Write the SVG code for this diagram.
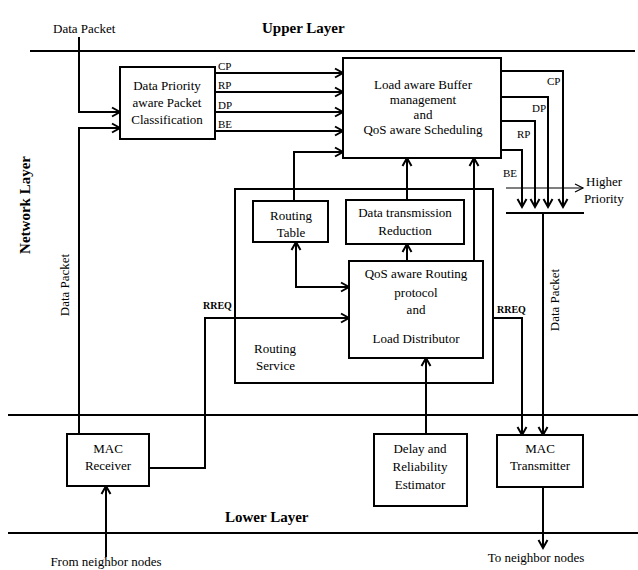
<svg xmlns="http://www.w3.org/2000/svg" width="638" height="570" viewBox="0 0 638 570" font-family="'Liberation Serif', 'DejaVu Serif', serif">
<style>
  .box{fill:#fff;stroke:#000;stroke-width:2}
  .ln{fill:none;stroke:#000;stroke-width:2}
  .thin{fill:none;stroke:#000;stroke-width:1.2}
  text{font-family:'Liberation Serif','DejaVu Serif',serif;font-size:13px;fill:#000}
  .c{text-anchor:middle}
  .b{font-weight:bold;font-size:15px}
  .lbl{font-size:11px}
  .sm{font-size:10px;font-weight:bold}
</style>
<defs>
  <marker id="ar" markerUnits="userSpaceOnUse" markerWidth="12" markerHeight="12" refX="9" refY="5" orient="auto-start-reverse" viewBox="0 0 12 10">
    <path d="M1,0.5 L9,5 L1,9.5" fill="none" stroke="#000" stroke-width="2"/>
  </marker>
  <marker id="ar2" markerUnits="userSpaceOnUse" markerWidth="12" markerHeight="12" refX="9" refY="5" orient="auto" viewBox="0 0 12 10">
    <path d="M1,1 L9,5 L1,9" fill="none" stroke="#000" stroke-width="1.2"/>
  </marker>
</defs>
<rect width="638" height="570" fill="#fff"/>

<g id="layers">
  <path class="ln" d="M30,51 H635 M8,415 H638 M8,533 H638"/>
  <text class="b" x="262" y="33">Upper Layer</text>
  <text class="b" x="225" y="522">Lower Layer</text>
  <text class="b c" transform="translate(30,205) rotate(-90)">Network Layer</text>
</g>

<g id="labels">
  <text x="53" y="33">Data Packet</text>
  <text class="c" fill="#222" transform="translate(69,285) rotate(-90)">Data Packet</text>
  <text class="c" fill="#222" transform="translate(559,300) rotate(-90)">Data Packet</text>
  <text class="c" x="106" y="566">From neighbor nodes</text>
  <text class="c" x="536" y="562">To neighbor nodes</text>
  <text class="lbl" x="218" y="70">CP</text>
  <text class="lbl" x="218" y="89">RP</text>
  <text class="lbl" x="218" y="109">DP</text>
  <text class="lbl" x="218" y="128">BE</text>
  <text class="lbl" x="547" y="85">CP</text>
  <text class="lbl" x="532" y="112">DP</text>
  <text class="lbl" x="517" y="138">RP</text>
  <text class="lbl" x="503" y="177">BE</text>
  <text x="586" y="186">Higher</text>
  <text x="584" y="203">Priority</text>
  <text class="sm" x="203" y="309">RREQ</text>
  <text class="sm" x="497" y="313">RREQ</text>
</g>

<g id="connectors">
  <path class="ln" marker-end="url(#ar)" d="M79,37 V112 H120"/>
  <path class="ln" marker-end="url(#ar)" d="M79,434 V128 H120"/>
  <path class="ln" marker-end="url(#ar)" d="M215,73 H343"/>
  <path class="ln" marker-end="url(#ar)" d="M215,92 H343"/>
  <path class="ln" marker-end="url(#ar)" d="M215,112 H343"/>
  <path class="ln" marker-end="url(#ar)" d="M215,131 H343"/>
  <path class="ln" marker-end="url(#ar)" d="M294,201 V152 H343"/>
  <path class="ln" marker-end="url(#ar)" d="M407,200 V158"/>
  <path class="ln" marker-end="url(#ar)" d="M407,261 V244"/>
  <path class="ln" marker-end="url(#ar)" d="M474,261 V158"/>
  <path class="ln" marker-start="url(#ar)" marker-end="url(#ar)" d="M296,242 V287 H349"/>
  <path class="ln" marker-end="url(#ar)" d="M149,468 H205 V318 H349"/>
  <path class="ln" marker-end="url(#ar)" d="M492,318 H522 V435"/>
  <path class="ln" marker-end="url(#ar)" d="M543,213 V435"/>
  <path class="ln" marker-end="url(#ar)" d="M426,434 V358"/>
  <path class="ln" marker-end="url(#ar)" d="M106,557 V486"/>
  <path class="ln" marker-end="url(#ar)" d="M543,487 V548"/>
  <path class="ln" marker-end="url(#ar)" d="M501,71 H563 V207"/>
  <path class="ln" marker-end="url(#ar)" d="M501,97 H548 V207"/>
  <path class="ln" marker-end="url(#ar)" d="M501,121 H535 V207"/>
  <path class="ln" marker-end="url(#ar)" d="M501,150 H522 V207"/>
  <path class="ln" d="M506,213 H584"/>
  <path class="thin" marker-end="url(#ar2)" d="M506,188 H583"/>
</g>

<g id="routing-service">
  <rect x="235" y="189" width="258" height="194" fill="none" stroke="#000" stroke-width="2"/>
  <text x="254" y="353">Routing</text>
  <text x="256" y="370">Service</text>
</g>

<g id="classification">
  <rect class="box" x="120" y="67" width="95" height="72"/>
  <text class="c" x="167" y="90">Data Priority</text>
  <text class="c" x="167" y="107">aware Packet</text>
  <text class="c" x="167" y="124">Classification</text>
</g>

<g id="buffer">
  <rect class="box" x="343" y="58" width="158" height="100"/>
  <text class="c" x="423" y="89">Load aware Buffer</text>
  <text class="c" x="423" y="104">management</text>
  <text class="c" x="423" y="119">and</text>
  <text class="c" x="423" y="134">QoS aware Scheduling</text>
</g>

<g id="routing-table">
  <rect class="box" x="253" y="201" width="75" height="41"/>
  <text class="c" x="291" y="220">Routing</text>
  <text class="c" x="291" y="237">Table</text>
</g>

<g id="dtr">
  <rect class="box" x="346" y="200" width="118" height="44"/>
  <text class="c" x="405" y="217">Data transmission</text>
  <text class="c" x="405" y="235">Reduction</text>
</g>

<g id="qos-routing">
  <rect class="box" x="349" y="261" width="134" height="97"/>
  <text class="c" x="416" y="278">QoS aware Routing</text>
  <text class="c" x="416" y="297">protocol</text>
  <text class="c" x="416" y="314">and</text>
  <text class="c" x="416" y="343">Load Distributor</text>
</g>

<g id="mac-rx">
  <rect class="box" x="67" y="434" width="82" height="52"/>
  <text class="c" x="108" y="453">MAC</text>
  <text class="c" x="108" y="470">Receiver</text>
</g>

<g id="delay">
  <rect class="box" x="374" y="434" width="93" height="72"/>
  <text class="c" x="420" y="453">Delay and</text>
  <text class="c" x="420" y="471">Reliability</text>
  <text class="c" x="420" y="489">Estimator</text>
</g>

<g id="mac-tx">
  <rect class="box" x="497" y="435" width="86" height="52"/>
  <text class="c" x="540" y="453">MAC</text>
  <text class="c" x="540" y="470">Transmitter</text>
</g>
</svg>
